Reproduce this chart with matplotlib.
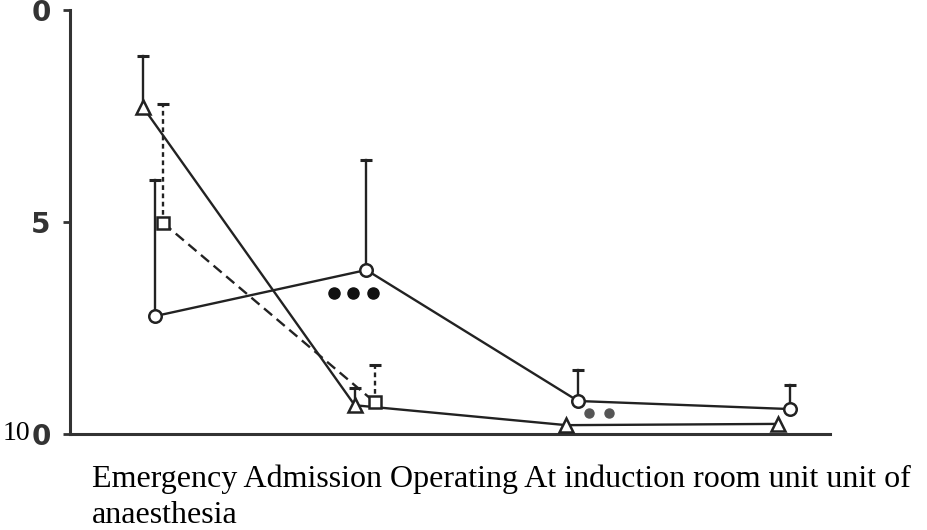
import matplotlib.pyplot as plt
import matplotlib.transforms as mtransforms

# group positions along the x axis (4 time points)
groups = [0, 1, 2, 3]

# open circles (solid line)
circle_y = [2.78, 3.87, 0.78, 0.59]
circle_top = [5.99, 6.46, 1.51, 1.16]

# open triangles (solid line)
triangle_y = [7.71, 0.68, 0.21, 0.24]
triangle_top = [8.92, 1.08, None, None]

# open squares (dashed line)
square_y = [4.98, 0.75]
square_top = [7.78, 1.63]

yticks = [0, 5, 10]
yticklabels = ['0', '5', '0']
caption_lines = ["Emergency Admission Operating At induction room unit unit of",
                 "anaesthesia"]

tri_shift = -0.055
sq_shift = 0.04

circle_x = [g for g in groups]
triangle_x = [g + tri_shift for g in groups]
square_x = [g + sq_shift for g in groups[:2]]

fig = plt.figure(figsize=(9.28, 5.30), dpi=100)
ax = fig.add_axes([0.0754, 0.181, 0.819, 0.8])

lw = 1.7
ms = 9

# connecting lines
ax.plot(circle_x, circle_y, color='#222', lw=lw, zorder=2)
ax.plot(triangle_x, triangle_y, color='#222', lw=lw, zorder=2)
ax.plot(square_x, square_y, color='#222', lw=lw, ls=(0, (4.5, 2.5)), zorder=2)

# upward-only error bars with a small cap
def up_bars(xs, ys, tops, ls='-'):
    for x, y, t in zip(xs, ys, tops):
        if t is None:
            continue
        ax.plot([x, x], [y, t], color='#222', lw=lw, ls=ls, zorder=2)
        ax.plot([x], [t], marker='_', ms=8, mew=2.2, color='#222', zorder=2)

up_bars(circle_x, circle_y, circle_top)
up_bars(triangle_x, triangle_y, triangle_top)
up_bars(square_x, square_y, square_top, ls=(0, (2, 1.5)))

# markers
ax.plot(circle_x, circle_y, ls='none', marker='o', ms=ms, mfc='white',
        mec='#222', mew=1.8, zorder=3)
ax.plot(triangle_x, triangle_y, ls='none', marker='^', ms=ms + 1, mfc='white',
        mec='#222', mew=1.8, zorder=3)
ax.plot(square_x, square_y, ls='none', marker='s', ms=ms - 1, mfc='white',
        mec='#222', mew=1.8, zorder=3)

# significance dots, placed relative to the circle points
for dx in (-32, -13, 7):
    tr = mtransforms.offset_copy(ax.transData, fig=fig, x=dx, y=-23, units='dots')
    ax.plot([circle_x[1]], [circle_y[1]], marker='o', ms=8, color='#111',
            transform=tr, zorder=3)
for dx in (11, 31):
    tr = mtransforms.offset_copy(ax.transData, fig=fig, x=dx, y=-12, units='dots')
    ax.plot([circle_x[2]], [circle_y[2]], marker='o', ms=6.5, color='#555',
            transform=tr, zorder=3)

ax.set_xlim(-0.40, 3.19)
ax.set_ylim(0, 10)
ax.set_xticks([])
ax.set_yticks(yticks)
ax.set_yticklabels(yticklabels, fontsize=20, fontweight='bold', color='#333')
ax.tick_params(axis='y', length=5, width=2, pad=9, color='#333')
for side in ('top', 'right'):
    ax.spines[side].set_visible(False)
for side in ('left', 'bottom'):
    ax.spines[side].set_linewidth(2.2)
    ax.spines[side].set_color('#333')

# serif "10" prefix printed before the bottom tick label
fig.text(30 / 928, 1 - 434 / 530, '10', ha='right', va='center',
         family='Liberation Serif', fontsize=20)

# caption under the axis, two lines
for line, base in zip(caption_lines, (487, 523)):
    fig.text(92 / 928, 1 - base / 530, line, ha='left', va='baseline',
             family='Liberation Serif', fontsize=23)

fig.savefig('out.png', dpi=100)
